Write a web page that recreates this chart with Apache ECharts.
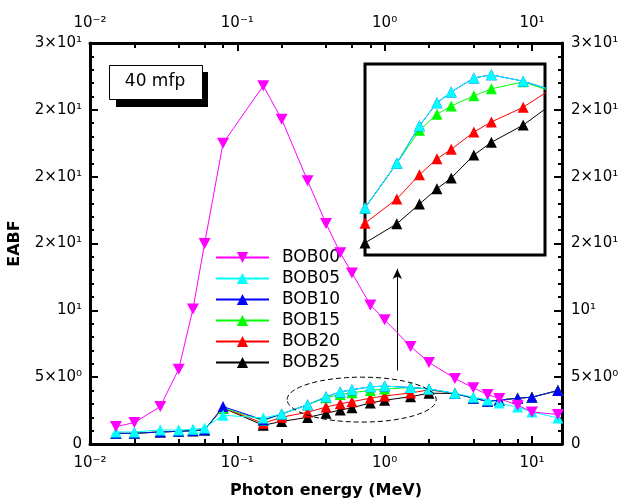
<!DOCTYPE html>
<html>
<head>
<meta charset="utf-8">
<script src="https://cdn.jsdelivr.net/npm/echarts@6/dist/echarts.min.js"></script>
<style>
  html, body { margin: 0; padding: 0; background: #fff; }
  #chart { width: 620px; height: 499px; }
</style>
</head>
<body>
<div id="chart"></div>
<script>
// photon energies (MeV)
const energies = [0.015, 0.02, 0.03, 0.04, 0.05, 0.06, 0.08, 0.15, 0.2, 0.3, 0.4, 0.5, 0.6, 0.8, 1, 1.5, 2, 3, 4, 5, 6, 8, 10, 15];

// EABF at 40 mfp
const bob00 = [1.3, 1.6, 2.8, 5.6, 10.1, 15.0, 22.5, 26.8, 24.3, 19.7, 16.5, 14.3, 12.8, 10.4, 9.3, 7.3, 6.1, 4.9, 4.2, 3.7, 3.4, 2.9, 2.4, 2.2];
const bob05 = [0.9, 0.9, 1.05, 1.05, 1.1, 1.2, 2.15, 1.95, 2.24, 2.94, 3.53, 3.89, 4.06, 4.28, 4.33, 4.23, 4.12, 3.8, 3.5, 3.3, 3.06, 2.76, 2.4, 1.95];
const bob10 = [0.8, 0.8, 0.9, 0.95, 1.0, 1.05, 2.8, 1.8, 2.24, 2.94, 3.53, 3.89, 4.06, 4.28, 4.33, 4.23, 4.12, 3.78, 3.43, 3.2, 3.28, 3.43, 3.5, 4.0];
const bob15 = [0.8, 0.8, 0.9, 0.95, 1.0, 1.05, 2.7, 1.75, 2.24, 2.94, 3.46, 3.71, 3.84, 4.0, 4.11, 4.22, 4.1, 3.78, 3.43, 3.2, 3.28, 3.43, 3.5, 4.0];
const bob20 = [0.8, 0.8, 0.9, 0.95, 1.0, 1.05, 2.7, 1.55, 2.0, 2.38, 2.76, 3.01, 3.16, 3.43, 3.59, 3.82, 4.05, 3.78, 3.43, 3.2, 3.28, 3.43, 3.5, 4.0];
const bob25 = [0.8, 0.8, 0.9, 0.95, 1.0, 1.05, 2.7, 1.4, 1.69, 1.99, 2.3, 2.54, 2.71, 3.07, 3.27, 3.54, 3.8, 3.78, 3.43, 3.2, 3.28, 3.43, 3.5, 4.0];

const seriesNames = ['BOB00', 'BOB05', 'BOB10', 'BOB15', 'BOB20', 'BOB25'];
const seriesValues = [bob00, bob05, bob10, bob15, bob20, bob25];
const seriesColors = ['#ff00ff', '#00ffff', '#0000ff', '#00ff00', '#ff0000', '#000000'];

// axis ticks
const xMajorTicks = [0.01, 0.1, 1, 10];
const xTickLabels = ['10⁻²', '10⁻¹', '10⁰', '10¹'];
const xMinorTicks = [0.02, 0.04, 0.06, 0.08, 0.2, 0.4, 0.6, 0.8, 2, 4, 6, 8];
const yTickValues = [0, 5, 10, 15, 20, 25, 30];
const yTickLabels = ['0', '5×10⁰', '10¹', '2×10¹', '2×10¹', '2×10¹', '3×10¹'];

// annotations (data coordinates)
const arrowEnergy = 1.22, arrowFrom = 5.5, arrowTo = 13.1;
const ellipseEnergy = [0.218, 2.24], ellipseEabf = [5.0, 1.64];
const insetEnergy = [0.2, 1.98], insetEabf = [1.5, 4.5];

const FONT = 'DejaVu Sans';
const downTriangle = 'path://M0,0 L10,0 L5,9 Z';

function xLabel(v) {
  const i = xMajorTicks.findIndex(t => Math.abs(Math.log10(t) - Math.log10(v)) < 1e-6);
  return i < 0 ? '' : xTickLabels[i];
}
function yLabel(v) {
  const i = yTickValues.indexOf(v);
  return i < 0 ? '' : yTickLabels[i];
}

function xAxisMajor(pos, extra) {
  return Object.assign({
    type: 'log', logBase: 10, gridIndex: 0, position: pos, min: 0.01, max: 16,
    axisLine: { show: true, onZero: false, lineStyle: { color: '#000', width: 3 } },
    axisTick: { show: true, inside: true, length: 8, customValues: xMajorTicks, lineStyle: { color: '#000', width: 2 } },
    axisLabel: { show: true, customValues: xMajorTicks, formatter: xLabel, color: '#000', fontSize: 15, margin: 12, fontFamily: FONT },
    minorTick: { show: false },
    splitLine: { show: false }
  }, extra || {});
}
function xAxisMinor(pos) {
  return {
    type: 'log', logBase: 10, gridIndex: 0, position: pos, min: 0.01, max: 16,
    axisLine: { show: false, onZero: false },
    axisTick: { show: true, inside: true, length: 5, customValues: xMinorTicks, lineStyle: { color: '#000', width: 2 } },
    axisLabel: { show: false },
    splitLine: { show: false }
  };
}
function yAxisMain(pos, extra) {
  return Object.assign({
    type: 'value', gridIndex: 0, position: pos, min: 0, max: 30, interval: 5,
    axisLine: { show: true, onZero: false, lineStyle: { color: '#000', width: 3 } },
    axisTick: { show: true, inside: true, length: 8, lineStyle: { color: '#000', width: 2 } },
    minorTick: { show: true, splitNumber: 5, length: 4, lineStyle: { color: '#000', width: 2 } },
    axisLabel: { formatter: yLabel, color: '#000', fontSize: 15, margin: 8, fontFamily: FONT },
    splitLine: { show: false }
  }, extra || {});
}

const series = [];
seriesNames.forEach((name, i) => {
  const data = energies.map((e, k) => [e, seriesValues[i][k]]);
  const base = {
    name: name, type: 'line', data: data,
    symbol: i === 0 ? downTriangle : 'triangle',
    symbolSize: i === 0 ? [12, 11] : 11,
    lineStyle: { color: seriesColors[i], width: 1 },
    itemStyle: { color: seriesColors[i], borderWidth: 0 },
    z: 10 - i,
    emphasis: { disabled: true }
  };
  series.push(Object.assign({ xAxisIndex: 0, yAxisIndex: 0 }, base));
  if (i > 0) {
    series.push(Object.assign({}, base, { xAxisIndex: 4, yAxisIndex: 2, clip: true }));
  }
});
series[series.length - 2].markLine = {
  silent: true, symbol: ['none', 'arrow'], symbolSize: [7, 10],
  label: { show: false },
  lineStyle: { color: '#000', width: 1, type: 'solid' },
  data: [[{ coord: [arrowEnergy, arrowFrom] }, { coord: [arrowEnergy, arrowTo] }]]
};

const chart = echarts.init(document.getElementById('chart'));
chart.setOption({
  animation: false,
  backgroundColor: '#fff',
  textStyle: { fontFamily: FONT },
  grid: [
    { left: 90, right: 58, top: 43, bottom: 55, outerBoundsMode: 'none' },
    { left: 365, top: 64, width: 180, height: 191, show: true, backgroundColor: '#fff',
      borderColor: '#000', borderWidth: 3, outerBoundsMode: 'none', z: 1 }
  ],
  xAxis: [
    xAxisMajor('bottom', {
      name: 'Photon energy (MeV)', nameLocation: 'middle', nameGap: 39,
      nameTextStyle: { fontWeight: 'bold', fontSize: 16, color: '#000', fontFamily: FONT }
    }),
    xAxisMinor('bottom'),
    xAxisMajor('top'),
    xAxisMinor('top'),
    { type: 'log', logBase: 10, gridIndex: 1, min: insetEnergy[0], max: insetEnergy[1], show: false }
  ],
  yAxis: [
    yAxisMain('left', {
      name: 'EABF', nameLocation: 'middle', nameGap: 67, nameRotate: 90,
      nameTextStyle: { fontWeight: 'bold', fontSize: 16, color: '#000', fontFamily: FONT }
    }),
    yAxisMain('right', { axisLabel: { formatter: yLabel, color: '#000', fontSize: 15, margin: 9, fontFamily: FONT } }),
    { type: 'value', gridIndex: 1, min: insetEabf[0], max: insetEabf[1], show: false }
  ],
  legend: {
    orient: 'vertical', left: 210, top: 244,
    itemWidth: 53, itemHeight: 14, itemGap: 4,
    data: seriesNames,
    textStyle: { fontSize: 17, color: '#000', fontFamily: FONT, padding: [0, 0, 0, 8] },
    selectedMode: false
  },
  graphic: [
    { type: 'rect', left: 116, top: 72, shape: { width: 92, height: 35 }, style: { fill: '#000' }, z: 20 },
    { type: 'rect', left: 109, top: 65, shape: { width: 93, height: 34 }, style: { fill: '#fff', stroke: '#000', lineWidth: 1 }, z: 21 },
    { type: 'text', x: 155, y: 82, style: { text: '40 mfp', fontSize: 17, fontFamily: FONT, fill: '#000', align: 'center', verticalAlign: 'middle' }, z: 22 }
  ],
  series: series
});

// dashed ellipse around the 0.2-2 MeV region, placed in data coordinates
const pA = chart.convertToPixel({ xAxisIndex: 0, yAxisIndex: 0 }, [ellipseEnergy[0], ellipseEabf[0]]);
const pB = chart.convertToPixel({ xAxisIndex: 0, yAxisIndex: 0 }, [ellipseEnergy[1], ellipseEabf[1]]);
chart.setOption({
  graphic: [{
    id: 'zoomEllipse', type: 'ellipse', z: 30,
    shape: { cx: (pA[0] + pB[0]) / 2, cy: (pA[1] + pB[1]) / 2, rx: Math.abs(pB[0] - pA[0]) / 2, ry: Math.abs(pB[1] - pA[1]) / 2 },
    style: { fill: 'none', stroke: '#000', lineWidth: 1, lineDash: [5, 3] }
  }]
});
</script>
</body>
</html>
